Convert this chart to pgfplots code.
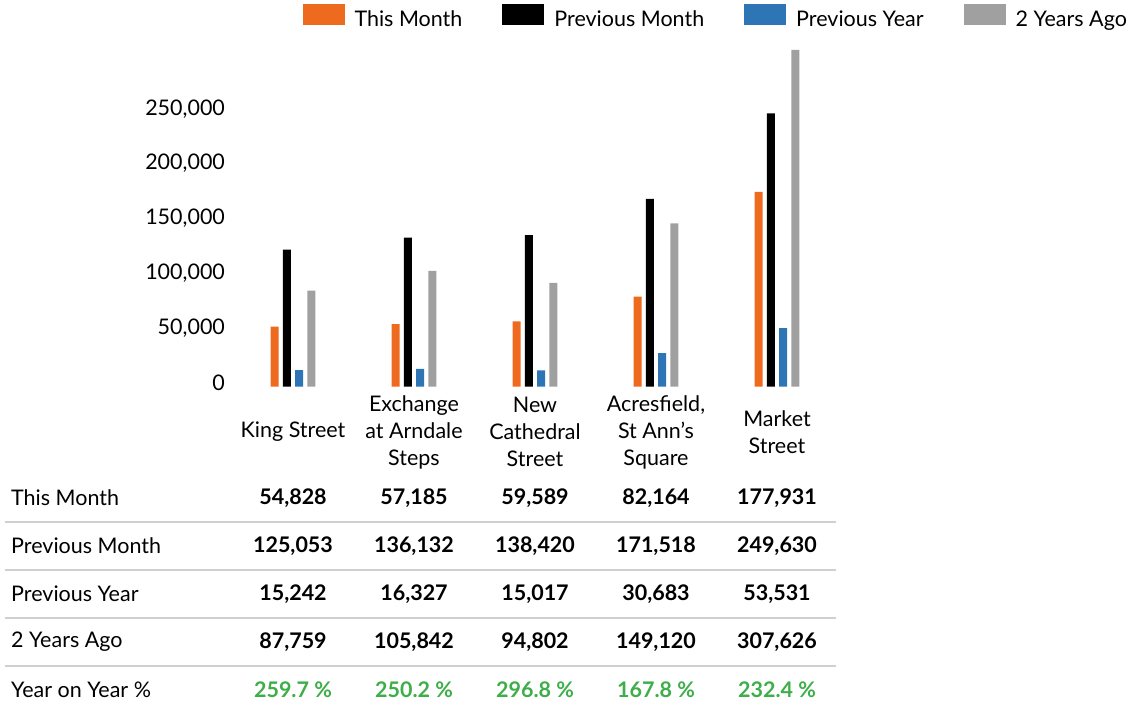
\documentclass[border=0pt]{standalone}
\usepackage{fontspec}
\setmainfont{Lato}
\usepackage{pgfplots}
\usepackage{pgfplotstable}
\pgfplotsset{compat=1.18}
\definecolor{cTM}{HTML}{EE6A1F}
\definecolor{cPM}{HTML}{000000}
\definecolor{cPY}{HTML}{2E75B6}
\definecolor{cTY}{HTML}{A0A0A0}
\definecolor{cYoY}{HTML}{3DAE49}
\definecolor{cLine}{HTML}{D0D0D0}

\pgfplotstableread{
x TM PM PY TY
0 54828 125053 15242 87759
1 57185 136132 16327 105842
2 59589 138420 15017 94802
3 82164 171518 30683 149120
4 177931 249630 53531 307626
}\data

\newcommand\txt{\fontsize{21.5}{27}\selectfont}

\begin{document}
\begin{tikzpicture}[x=1pt,y=1pt]
\path[use as bounding box] (0,0) rectangle (1129,713);
\begin{axis}[
  at={(232.5pt,326.3pt)}, anchor=south west,
  scale only axis, width=605pt, height=339.5pt,
  xmin=-0.5, xmax=4.5, ymin=0, ymax=310000,
  axis x line*=bottom, axis y line*=left,
  axis line style={draw=none},
  major tick length=0pt,
  clip=false,
  ybar=4.3pt, bar width=8pt,
  xtick={0,1,2,3,4},
  xticklabels={King Street,{Exchange\\at Arndale\\Steps},{New\\Cathedral\\Street},{Acresfield,\\St Ann's\\Square},{Market\\Street}},
  xticklabel style={align=center, anchor=center, yshift=-45.3pt, font=\txt},
  ytick={0,50000,100000,150000,200000,250000},
  scaled y ticks=false,
  yticklabel={\pgfmathprintnumber[fixed,precision=0,1000 sep={,},assume math mode=true]{\tick}},
  yticklabel style={font=\txt, xshift=-4pt, yshift=4pt},
  legend columns=4,
  legend style={at={(1.4785,1.092)}, anchor=east, draw=none, fill=none,
    inner sep=0pt, outer sep=0pt, font=\txt,
    nodes={inner sep=0pt},
    /tikz/every odd column/.append style={column sep=10pt},
    /tikz/every even column/.append style={column sep=40pt}},
  legend image code/.code={\fill[#1] (0pt,-5pt) rectangle (42pt,16pt);},
]
\addplot[fill=cTM, draw=none] table[x=x,y=TM]{\data};
\addplot[fill=cPM, draw=none] table[x=x,y=PM]{\data};
\addplot[fill=cPY, draw=none] table[x=x,y=PY]{\data};
\addplot[fill=cTY, draw=none] table[x=x,y=TY]{\data};
\legend{This Month, Previous Month, Previous Year, 2 Years Ago}
\end{axis}

% data table below the chart
\foreach \py in {522,570,618,666}
  \draw[cLine, line width=1.5pt] (5,{713-\py}) -- (836,{713-\py});

\foreach \lab/\py in {This Month/498, Previous Month/546, Previous Year/594, 2 Years Ago/642, Year on Year \%/690}
  \node[anchor=west, inner sep=0pt, font=\txt] at (11,{713-\py}) {\lab};

\foreach \col/\py in {TM/498, PM/546, PY/594, TY/642} {
  \foreach \r in {0,...,4} {
    \pgfplotstablegetelem{\r}{\col}\of\data
    \node[font=\txt\bfseries, inner sep=0pt] at ({293+121*\r},{713-\py})
      {\pgfmathprintnumber[fixed, precision=0, 1000 sep={,}, assume math mode=true]{\pgfplotsretval}};
  }
}

\foreach \v [count=\i from 0] in {259.7, 250.2, 296.8, 167.8, 232.4}
  \node[font=\txt\bfseries, text=cYoY, inner sep=0pt] at ({293+121*\i},{713-690}) {\v\ \%};
\end{tikzpicture}
\end{document}
